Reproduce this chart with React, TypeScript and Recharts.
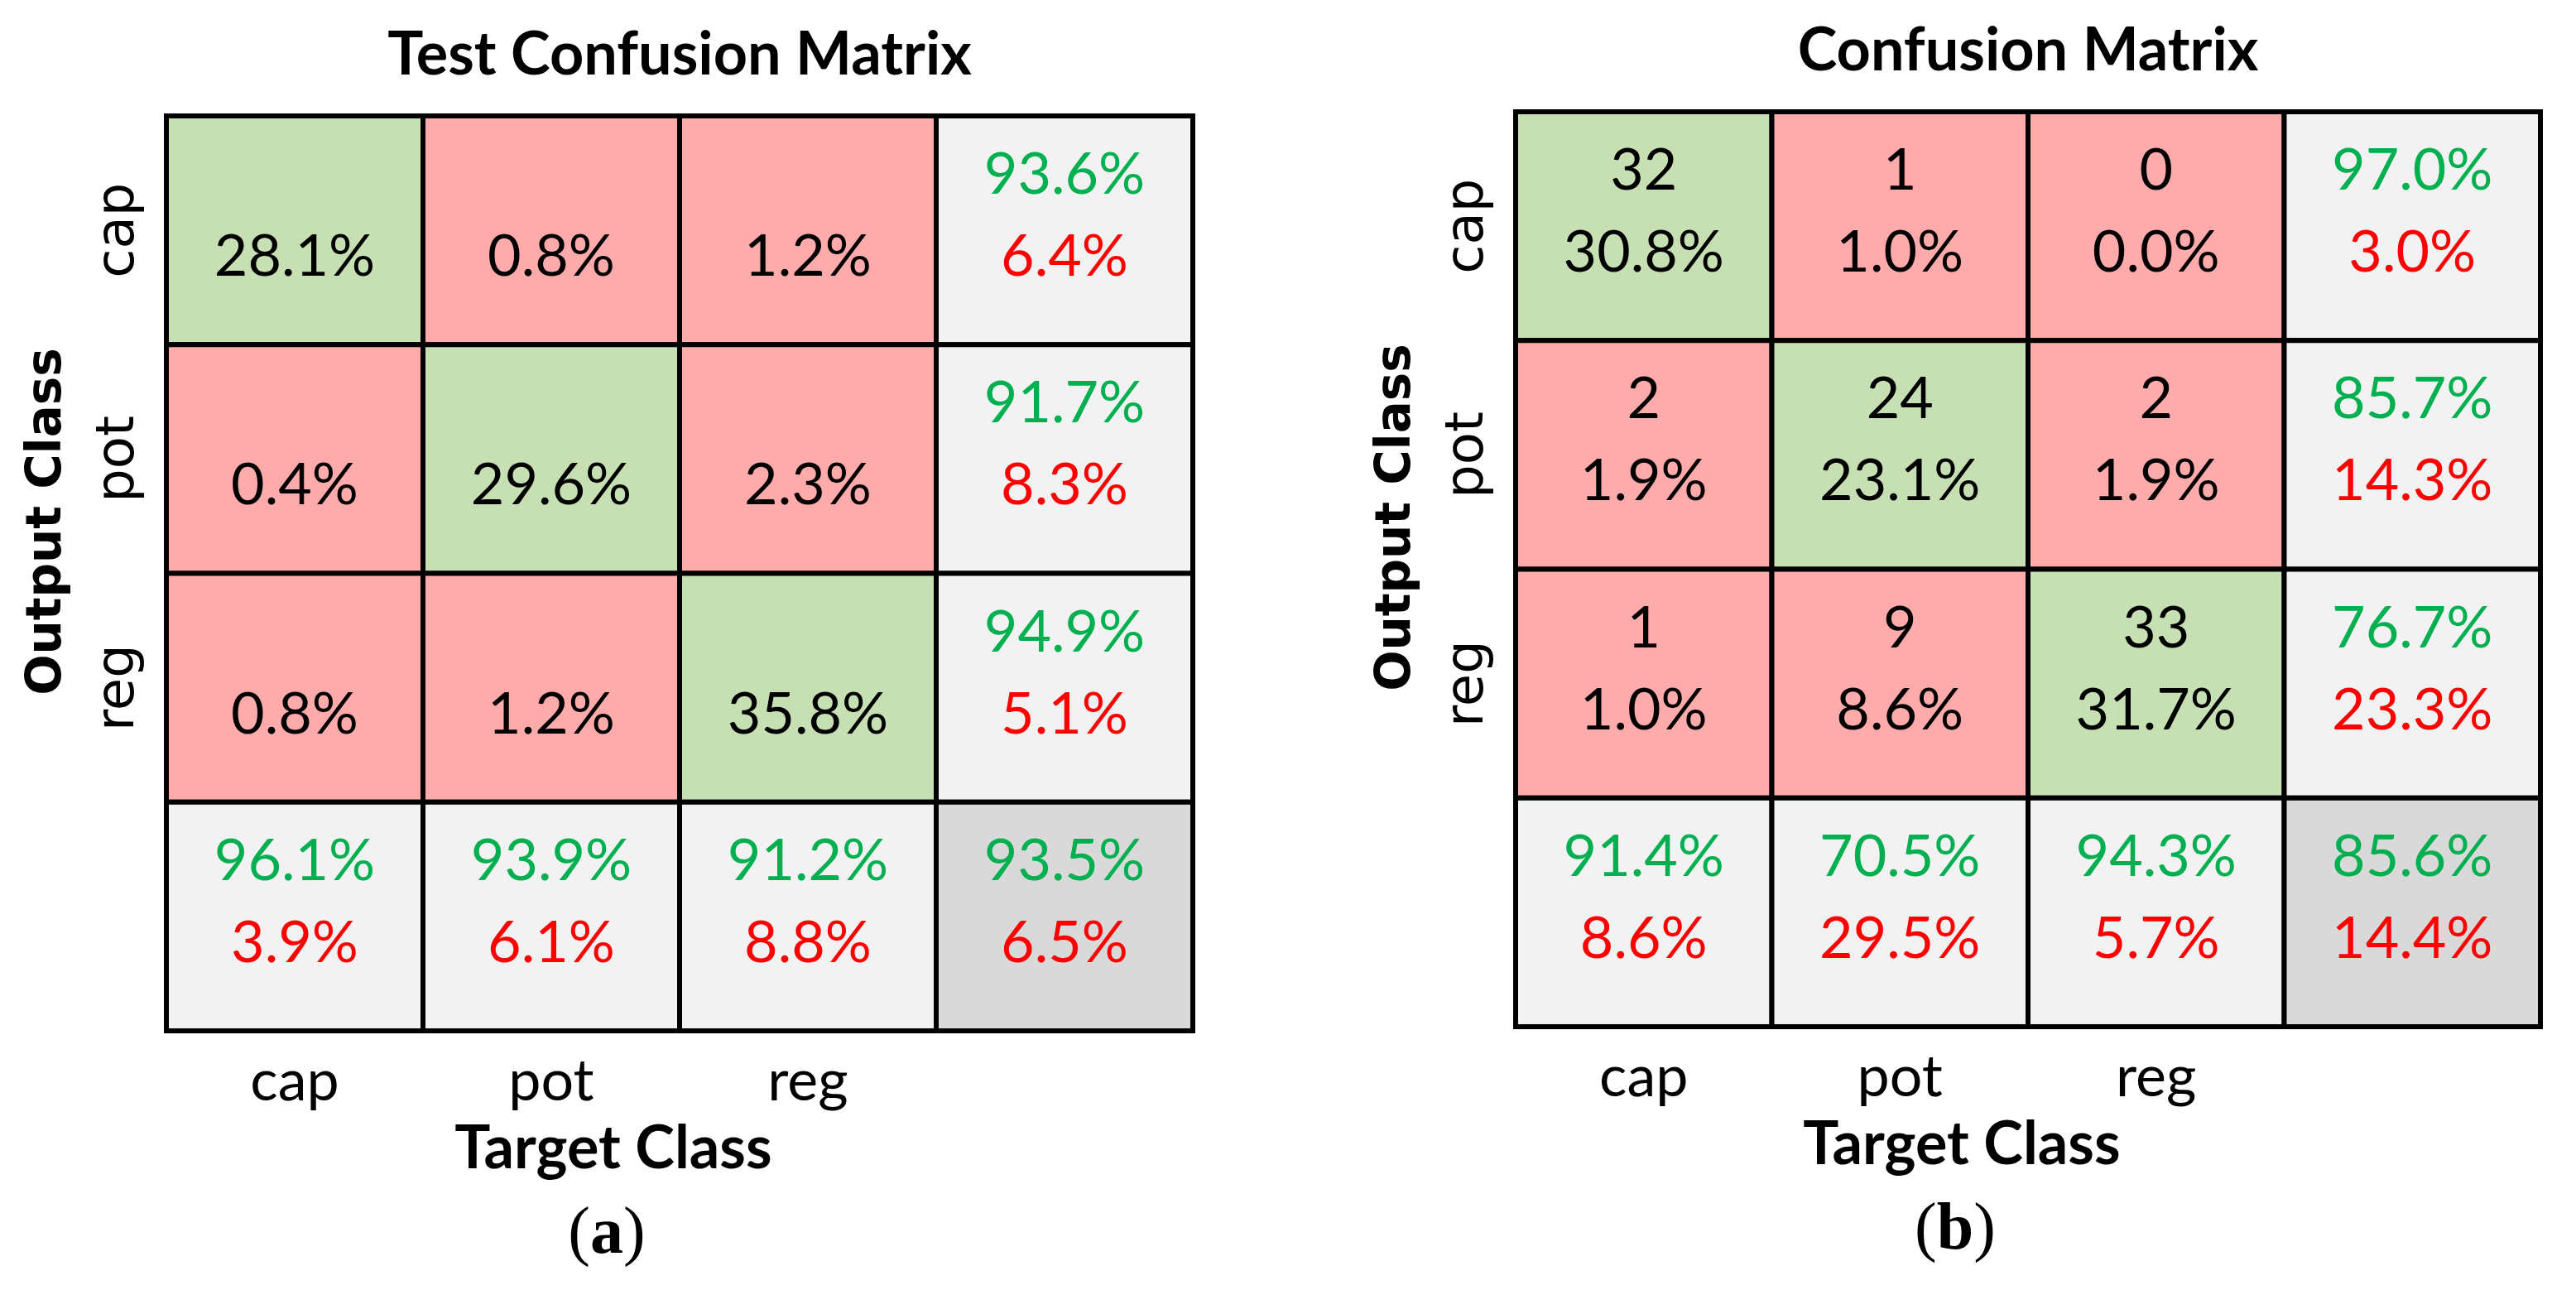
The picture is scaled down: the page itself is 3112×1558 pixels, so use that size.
import React from 'react';
import { ScatterChart, Scatter, XAxis, YAxis, ReferenceArea, Customized } from 'recharts';

// ---------- data ----------
const classLabels = ['cap', 'pot', 'reg'];
const axisTicks = [0.5, 1.5, 2.5];

// (a) Test confusion matrix (percent only)
const testPercent = [
  [28.1, 0.8, 1.2],
  [0.4, 29.6, 2.3],
  [0.8, 1.2, 35.8],
];
const testRowCorrect = [93.6, 91.7, 94.9];
const testRowError = [6.4, 8.3, 5.1];
const testColCorrect = [96.1, 93.9, 91.2];
const testColError = [3.9, 6.1, 8.8];
const testOverall = [93.5, 6.5];

// (b) Confusion matrix (counts + percent)
const allCounts = [
  [32, 1, 0],
  [2, 24, 2],
  [1, 9, 33],
];
const allPercent = [
  [30.8, 1.0, 0.0],
  [1.9, 23.1, 1.9],
  [1.0, 8.6, 31.7],
];
const allRowCorrect = [97.0, 85.7, 76.7];
const allRowError = [3.0, 14.3, 23.3];
const allColCorrect = [91.4, 70.5, 94.3];
const allColError = [8.6, 29.5, 5.7];
const allOverall = [85.6, 14.4];

// ---------- styles ----------
const FILL = {
  diag: '#C6E0B4',
  off: '#FFABAB',
  summary: '#F2F2F2',
  total: '#D9D9D9',
};
const GREEN = '#00B050';
const RED = '#FF0000';
const BLACK = '#000000';
const CELL_FONT = "Lato, 'Noto Sans', sans-serif";
const TICK_FONT = "'DejaVu Sans', Verdana, sans-serif";
const SERIF = "'Liberation Serif', 'Times New Roman', serif";

const pct = (v: number) => v.toFixed(1) + '%';

type CellItem = {
  x: number;
  y: number;
  col: number;
  row: number;
  kind: 'diag' | 'off' | 'summary' | 'total';
  top?: string;
  bottom: string;
  topColor: string;
  bottomColor: string;
};

function buildCells(
  counts: number[][] | null,
  percent: number[][],
  rowC: number[],
  rowE: number[],
  colC: number[],
  colE: number[],
  overall: number[]
): CellItem[] {
  const cells: CellItem[] = [];
  for (let r = 0; r < 3; r++) {
    for (let c = 0; c < 3; c++) {
      cells.push({
        x: c + 0.5,
        y: r + 0.5,
        col: c,
        row: r,
        kind: r === c ? 'diag' : 'off',
        top: counts ? String(counts[r][c]) : undefined,
        bottom: pct(percent[r][c]),
        topColor: BLACK,
        bottomColor: BLACK,
      });
    }
    cells.push({
      x: 3.5,
      y: r + 0.5,
      col: 3,
      row: r,
      kind: 'summary',
      top: pct(rowC[r]),
      bottom: pct(rowE[r]),
      topColor: GREEN,
      bottomColor: RED,
    });
  }
  for (let c = 0; c < 3; c++) {
    cells.push({
      x: c + 0.5,
      y: 3.5,
      col: c,
      row: 3,
      kind: 'summary',
      top: pct(colC[c]),
      bottom: pct(colE[c]),
      topColor: GREEN,
      bottomColor: RED,
    });
  }
  cells.push({
    x: 3.5,
    y: 3.5,
    col: 3,
    row: 3,
    kind: 'total',
    top: pct(overall[0]),
    bottom: pct(overall[1]),
    topColor: GREEN,
    bottomColor: RED,
  });
  return cells;
}

const testCells = buildCells(null, testPercent, testRowCorrect, testRowError, testColCorrect, testColError, testOverall);
const allCells = buildCells(allCounts, allPercent, allRowCorrect, allRowError, allColCorrect, allColError, allOverall);

// ---------- renderers ----------
const CellText = (props: any) => {
  const { cx, cy, payload } = props;
  if (cx == null || cy == null || !payload) return <g />;
  return (
    <g>
      {payload.top ? (
        <text x={cx} y={cy - 44} textAnchor="middle" fontFamily={CELL_FONT} fontSize={70} fill={payload.topColor}>
          {payload.top}
        </text>
      ) : null}
      <text x={cx} y={cy + 55} textAnchor="middle" fontFamily={CELL_FONT} fontSize={70} fill={payload.bottomColor}>
        {payload.bottom}
      </text>
    </g>
  );
};

const XTick = (props: any) => {
  const { x, y, payload } = props;
  const label = classLabels[Math.floor(payload.value)];
  return (
    <text x={x} y={y + 84} textAnchor="middle" fontFamily={CELL_FONT} fontSize={70} fill="#000">
      {label}
    </text>
  );
};

const YTick = (props: any) => {
  const { x, y, payload } = props;
  const label = classLabels[Math.floor(payload.value)];
  const bx = x - 40;
  return (
    <text
      x={bx}
      y={y}
      transform={`rotate(-90, ${bx}, ${y})`}
      textAnchor="middle"
      fontFamily={TICK_FONT}
      fontSize={64}
      fill="#000"
    >
      {label}
    </text>
  );
};

type PanelProps = {
  title: string;
  caption: string;
  cells: CellItem[];
  margin: { top: number; left: number; right: number; bottom: number };
};

const W = 1556;
const H = 1558;
const AXIS_W = 100;
const AXIS_H = 100;

const Decorations = (p: { title: string; caption: string; left: number; top: number; width: number; height: number }) => {
  const cx = p.left + p.width / 2;
  const bottom = p.top + p.height;
  const oy = p.top + 490;
  const ox = p.left - 128;
  return (
    <g>
      <text x={cx} y={p.top - 50} textAnchor="middle" fontFamily={CELL_FONT} fontWeight="bold" fontSize={72} fill="#000">
        {p.title}
      </text>
      <text x={cx - 80} y={bottom + 166} textAnchor="middle" fontFamily={CELL_FONT} fontWeight="bold" fontSize={72} fill="#000">
        Target Class
      </text>
      <text
        x={ox}
        y={oy}
        transform={`rotate(-90, ${ox}, ${oy})`}
        textAnchor="middle"
        fontFamily={TICK_FONT}
        fontWeight="bold"
        fontSize={58}
        fill="#000"
      >
        Output Class
      </text>
      <text x={cx - 88} y={bottom + 268} textAnchor="middle" fontFamily={SERIF} fontSize={80} fill="#000">
        (<tspan fontWeight="bold">{p.caption}</tspan>)
      </text>
    </g>
  );
};

const Panel = ({ title, caption, cells, margin }: PanelProps) => {
  const left = margin.left + AXIS_W;
  const top = margin.top;
  const width = W - left - margin.right;
  const height = H - top - margin.bottom - AXIS_H;
  return (
    <ScatterChart width={W} height={H} margin={margin}>
      <XAxis
        type="number"
        dataKey="x"
        domain={[0, 4]}
        ticks={axisTicks}
        height={AXIS_H}
        axisLine={false}
        tickLine={false}
        tickSize={0}
        tickMargin={0}
        tick={<XTick />}
        interval={0}
      />
      <YAxis
        type="number"
        dataKey="y"
        domain={[0, 4]}
        ticks={axisTicks}
        reversed
        width={AXIS_W}
        axisLine={false}
        tickLine={false}
        tickSize={0}
        tickMargin={0}
        tick={<YTick />}
        interval={0}
      />
      {cells.map((c, i) => (
        <ReferenceArea
          key={'a' + i}
          x1={c.col}
          x2={c.col + 1}
          y1={c.row}
          y2={c.row + 1}
          fill={FILL[c.kind]}
          fillOpacity={1}
          stroke="#000"
          strokeWidth={6}
          ifOverflow="visible"
        />
      ))}
      <Scatter data={cells} isAnimationActive={false} shape={<CellText />} />
      <Customized
        component={<Decorations title={title} caption={caption} left={left} top={top} width={width} height={height} />}
      />
    </ScatterChart>
  );
};

export default function App() {
  return (
    <div style={{ position: 'absolute', left: 0, top: 0, width: 3112, height: 1558, background: '#fff', display: 'flex' }}>
      <Panel
        title="Test Confusion Matrix"
        caption="a"
        cells={testCells}
        margin={{ top: 140, left: 101, right: 115, bottom: 213 }}
      />
      <Panel
        title="Confusion Matrix"
        caption="b"
        cells={allCells}
        margin={{ top: 135, left: 175, right: 43, bottom: 218 }}
      />
    </div>
  );
}
